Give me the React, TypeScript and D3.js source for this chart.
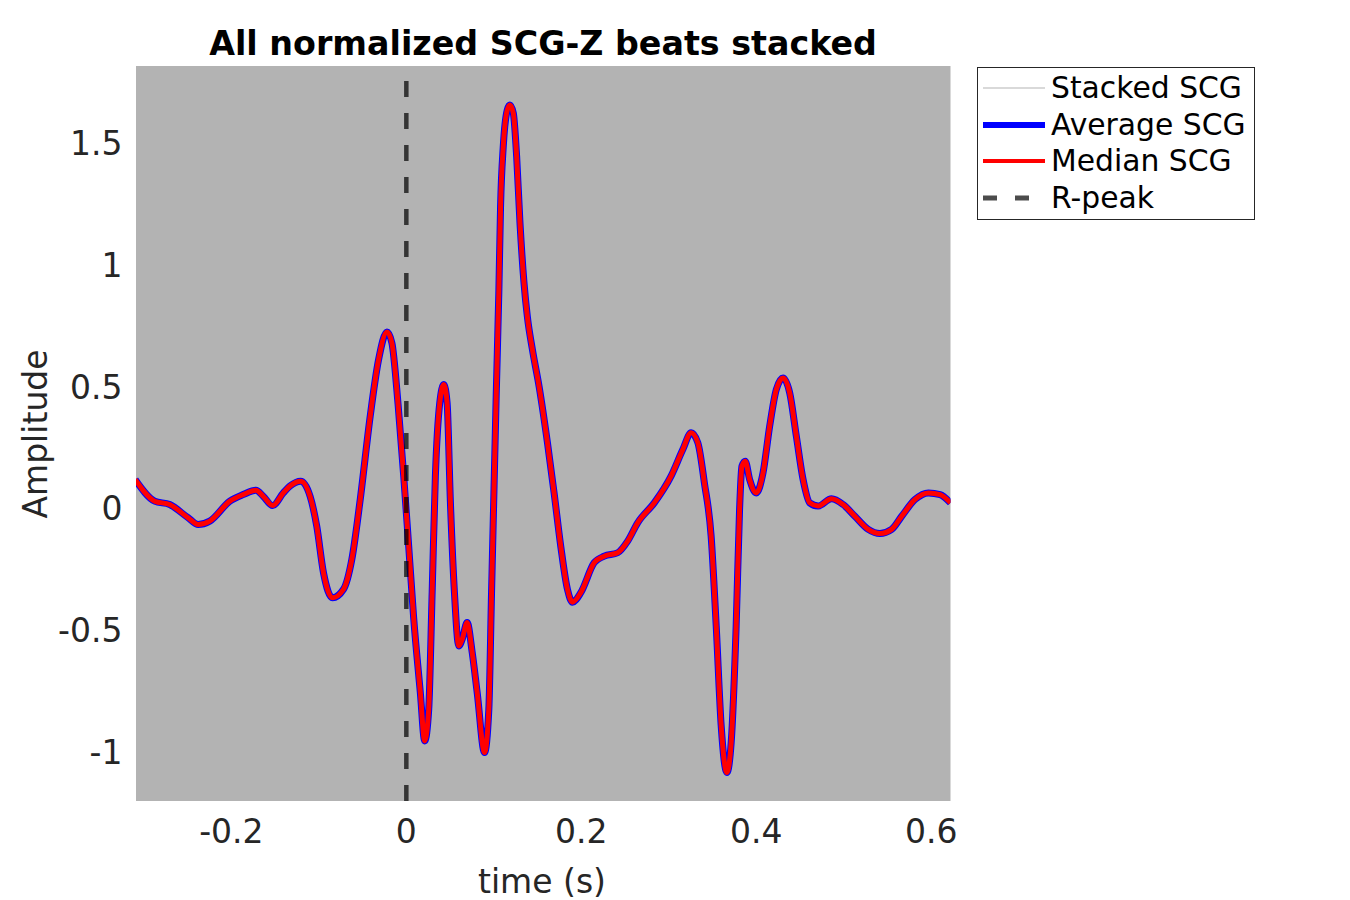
import React from "react";
import * as d3 from "d3";

// time axis (s) and beat amplitudes
const timeS = [
  -0.31, -0.2877, -0.2705, -0.2495, -0.238, -0.2247, -0.2017, -0.1865, -0.1719, -0.1635,
  -0.1528, -0.1406, -0.133, -0.1207, -0.11, -0.1024, -0.0947, -0.0844, -0.0718, -0.0623,
  -0.0527, -0.0413, -0.0317, -0.0221, -0.0165, -0.0095, -0.003, 0.0027, 0.0084, 0.016,
  0.021, 0.0256, 0.0295, 0.0332, 0.0382, 0.0428, 0.0466, 0.0504, 0.055, 0.06,
  0.0638, 0.0695, 0.0753, 0.081, 0.0894, 0.0943, 0.0974, 0.1001, 0.1028, 0.1058,
  0.1077, 0.1108, 0.1154, 0.1184, 0.1223, 0.1261, 0.1299, 0.1345, 0.1383, 0.1441,
  0.1517, 0.1613, 0.1689, 0.1765, 0.1842, 0.1899, 0.1994, 0.2147, 0.2262, 0.2415,
  0.253, 0.2644, 0.2834, 0.3026, 0.316, 0.3255, 0.3332, 0.3407, 0.3484, 0.3542,
  0.3599, 0.3664, 0.3713, 0.377, 0.3809, 0.3836, 0.3874, 0.3924, 0.4, 0.4077,
  0.4153, 0.4229, 0.4306, 0.4382, 0.4458, 0.4535, 0.4611, 0.4707, 0.486, 0.4993,
  0.5127, 0.528, 0.5413, 0.5547, 0.5662, 0.5815, 0.5968, 0.6101, 0.622,
];

const averageSCG = [
  0.119, 0.03, 0.016, -0.038, -0.066, -0.052, 0.03, 0.057, 0.075, 0.05,
  0.012, 0.064, 0.092, 0.112, 0.05, -0.073, -0.264, -0.367, -0.332, -0.209,
  0.037, 0.379, 0.612, 0.725, 0.68, 0.43, 0.133, -0.155, -0.45, -0.757,
  -0.955, -0.825, -0.346, 0.133, 0.434, 0.509, 0.434, 0.023, -0.346, -0.565,
  -0.538, -0.469, -0.592, -0.757, -1.003, -0.825, -0.346, 0.064, 0.475, 0.899,
  1.241, 1.488, 1.638, 1.658, 1.624, 1.446, 1.173, 0.927, 0.789, 0.653,
  0.502, 0.27, 0.064, -0.155, -0.333, -0.385, -0.346, -0.223, -0.196, -0.182,
  -0.134, -0.059, 0.023, 0.133, 0.242, 0.311, 0.27, 0.105, -0.114, -0.483,
  -0.894, -1.085, -0.962, -0.483, -0.004, 0.174, 0.194, 0.119, 0.064, 0.146,
  0.338, 0.489, 0.536, 0.475, 0.297, 0.119, 0.023, 0.01, 0.04, 0.016,
  -0.032, -0.086, -0.103, -0.086, -0.032, 0.037, 0.064, 0.057, 0.023,
];

// the median beat coincides with the average beat in the reference
const medianSCG = [
  0.119, 0.03, 0.016, -0.038, -0.066, -0.052, 0.03, 0.057, 0.075, 0.05,
  0.012, 0.064, 0.092, 0.112, 0.05, -0.073, -0.264, -0.367, -0.332, -0.209,
  0.037, 0.379, 0.612, 0.725, 0.68, 0.43, 0.133, -0.155, -0.45, -0.757,
  -0.955, -0.825, -0.346, 0.133, 0.434, 0.509, 0.434, 0.023, -0.346, -0.565,
  -0.538, -0.469, -0.592, -0.757, -1.003, -0.825, -0.346, 0.064, 0.475, 0.899,
  1.241, 1.488, 1.638, 1.658, 1.624, 1.446, 1.173, 0.927, 0.789, 0.653,
  0.502, 0.27, 0.064, -0.155, -0.333, -0.385, -0.346, -0.223, -0.196, -0.182,
  -0.134, -0.059, 0.023, 0.133, 0.242, 0.311, 0.27, 0.105, -0.114, -0.483,
  -0.894, -1.085, -0.962, -0.483, -0.004, 0.174, 0.194, 0.119, 0.064, 0.146,
  0.338, 0.489, 0.536, 0.475, 0.297, 0.119, 0.023, 0.01, 0.04, 0.016,
  -0.032, -0.086, -0.103, -0.086, -0.032, 0.037, 0.064, 0.057, 0.023,
];

const xTicks = [-0.2, 0, 0.2, 0.4, 0.6];
const yTicks = [-1, -0.5, 0, 0.5, 1, 1.5];
const xDomain = [-0.309, 0.622];
const yDomain = [-1.202, 1.818];
const rPeakTime = 0;
const legendLabels = ["Stacked SCG", "Average SCG", "Median SCG", "R-peak"];

const W = 1350;
const H = 900;
const plot = { left: 136, right: 950.5, top: 66, bottom: 801 };
const FONT = "'DejaVu Sans', sans-serif";

export default function App() {
  const x = d3.scaleLinear().domain(xDomain).range([plot.left, plot.right]);
  const y = d3.scaleLinear().domain(yDomain).range([plot.bottom, plot.top]);

  const line = (vals: number[]) =>
    d3
      .line<number>()
      .x((_, i) => x(timeS[i]))
      .y((d) => y(d))
      .curve(d3.curveMonotoneX)(vals) || "";

  const fmt = (v: number) => String(v);

  const legendX = 977.5;
  const legendY = 67.5;
  const rowY = [88, 125, 161, 198];

  return (
    <svg
      width={W}
      height={H}
      style={{ position: "absolute", left: 0, top: 0, background: "#fff" }}
      fontFamily={FONT}
    >
      <defs>
        <clipPath id="plotclip">
          <rect x={plot.left} y={plot.top} width={plot.right - plot.left} height={plot.bottom - plot.top} />
        </clipPath>
      </defs>
      <rect x={plot.left} y={plot.top} width={plot.right - plot.left} height={plot.bottom - plot.top} fill="#b3b3b3" />
      <g clipPath="url(#plotclip)">
        <path d={line(averageSCG)} fill="none" stroke="#0000ff" strokeWidth={7} strokeLinejoin="round" />
        <path d={line(medianSCG)} fill="none" stroke="#ff0000" strokeWidth={5} strokeLinejoin="round" />
        <line
          x1={x(rPeakTime)}
          x2={x(rPeakTime)}
          y1={y(yDomain[0])}
          y2={y(yDomain[1])}
          stroke="rgba(0,0,0,0.7)"
          strokeWidth={4.5}
          strokeDasharray="16,16"
        />
      </g>

      {xTicks.map((t) => (
        <text key={"x" + t} x={x(t)} y={843} textAnchor="middle" fontSize={33} fill="#262626">
          {fmt(t)}
        </text>
      ))}
      {yTicks.map((t) => (
        <text key={"y" + t} x={122.5} y={y(t) + 12} textAnchor="end" fontSize={33} fill="#262626">
          {fmt(t)}
        </text>
      ))}

      <text x={542} y={893} textAnchor="middle" fontSize={33} fill="#262626">
        time (s)
      </text>
      <text
        transform={`translate(46.5,434) rotate(-90)`}
        textAnchor="middle"
        fontSize={33}
        fill="#262626"
      >
        Amplitude
      </text>
      <text x={543} y={55} textAnchor="middle" fontSize={33.3} fontWeight="bold" fill="#000">
        All normalized SCG-Z beats stacked
      </text>

      <g>
        <rect x={legendX} y={legendY} width={277} height={152} fill="#fff" stroke="#262626" strokeWidth={1} />
        <line x1={983} x2={1045} y1={rowY[0]} y2={rowY[0]} stroke="#b3b3b3" strokeWidth={1} />
        <line x1={983} x2={1045} y1={rowY[1]} y2={rowY[1]} stroke="#0000ff" strokeWidth={6} />
        <line x1={983} x2={1045} y1={rowY[2]} y2={rowY[2]} stroke="#ff0000" strokeWidth={4} />
        <line
          x1={983}
          x2={1045}
          y1={rowY[3]}
          y2={rowY[3]}
          stroke="rgba(0,0,0,0.7)"
          strokeWidth={5}
          strokeDasharray="14,18"
        />
        {legendLabels.map((lab, i) => (
          <text key={lab} x={1051} y={rowY[i] + 10} fontSize={29.8} fill="#000">
            {lab}
          </text>
        ))}
      </g>
    </svg>
  );
}
